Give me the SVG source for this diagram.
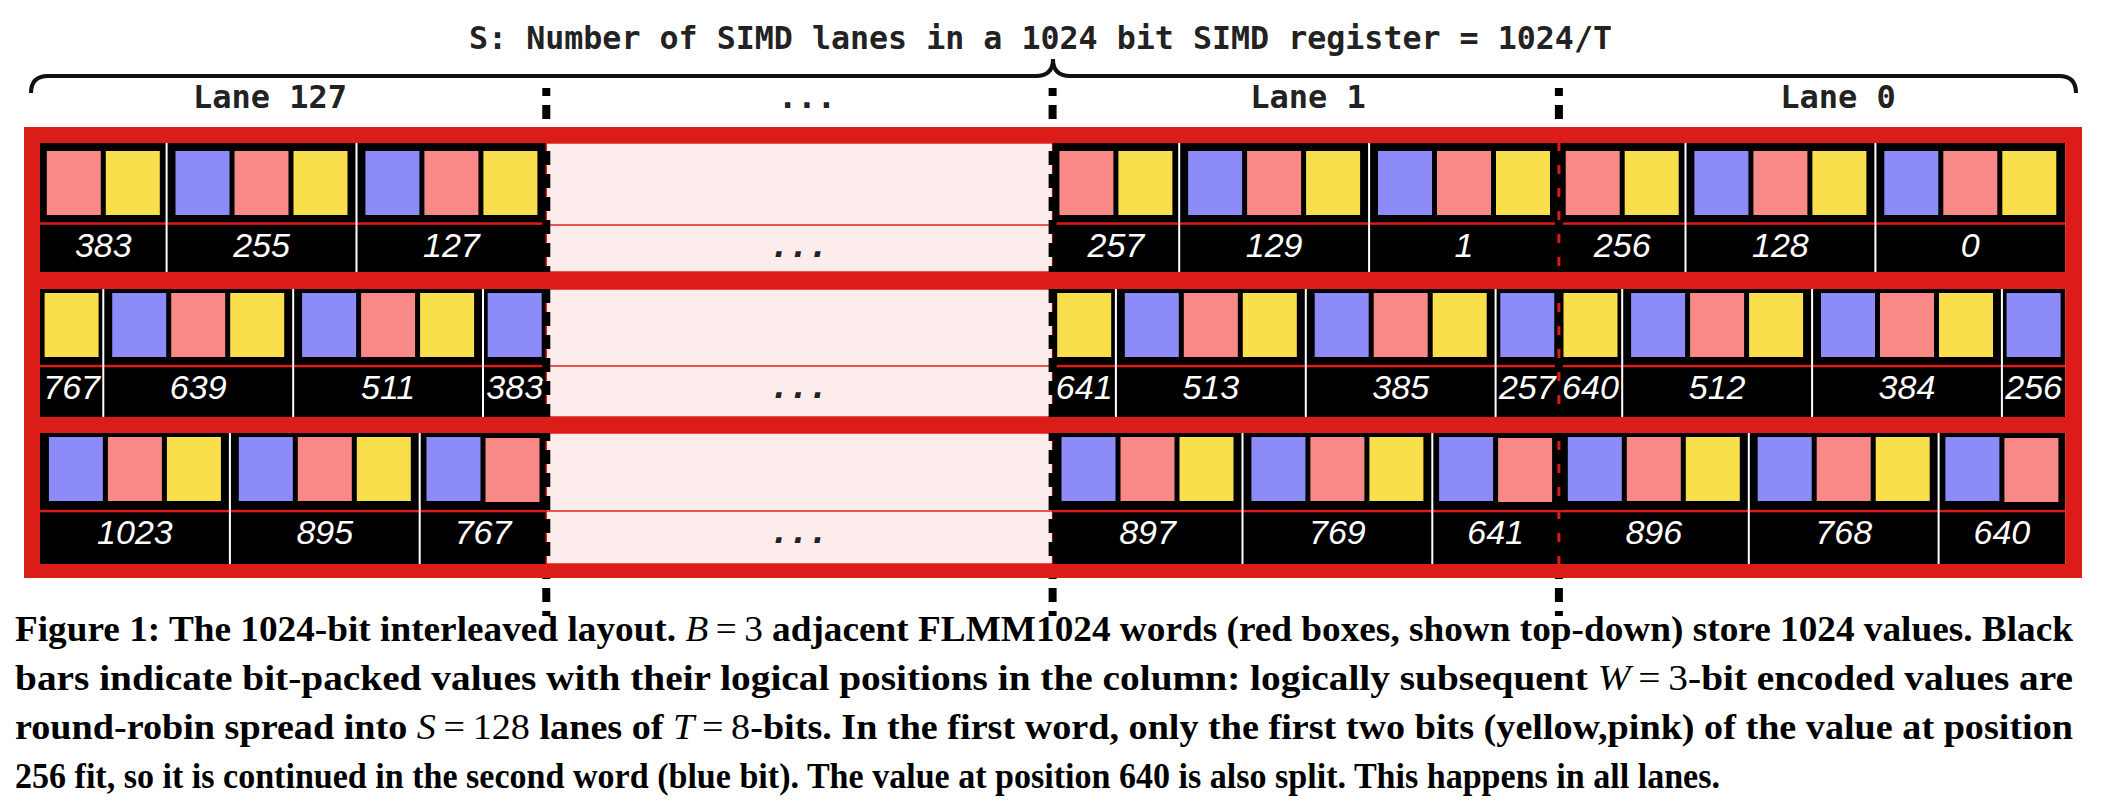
<svg xmlns="http://www.w3.org/2000/svg" xmlns:xlink="http://www.w3.org/1999/xlink" width="2106" height="804" viewBox="0 0 2106 804">
  <style>
    .frame { fill: #dc1c18; fill-rule: evenodd; }
    .cell { fill: #000; }
    .gap { fill: #fdecec; stroke: #e0221d; stroke-width: 1.5; }
    .gap-line { stroke: #e0221d; stroke-width: 1.5; fill: none; }
    .bp { fill: #f88987; }
    .by { fill: #f9df4b; }
    .bb { fill: #8c8bf8; }
    .sep { stroke: #fff; stroke-width: 2; fill: none; }
    .rl { fill: #dc1c18; }
    .lane-edge { stroke: #dc1c18; stroke-width: 3; fill: none; }
    .lane-sep { stroke: #000; stroke-width: 8; stroke-dasharray: 14 9; stroke-dashoffset: 6; fill: none; }
    .brace { stroke: #111; stroke-width: 4; fill: none; stroke-linecap: butt; }
    .num { font-family: "Liberation Sans", Arial, sans-serif; font-style: italic; font-size: 34px; fill: #fff; text-anchor: middle; }
    .mono { font-family: "DejaVu Sans Mono", "Liberation Mono", monospace; font-weight: bold; font-size: 32px; fill: #222; }
    .mid { text-anchor: middle; }
    .ell { font-style: italic; }
    .cap { font-family: "Liberation Serif", "Times New Roman", serif; font-weight: bold; font-size: 35px; fill: #000; }
    .mi { font-style: italic; font-weight: normal; }
    .mn { font-weight: normal; }
  </style>

  <defs>
    <!-- one 8-bit lane of word 1: values split 2 | 3 | 3 bits -->
    <g id="word1">
      <rect class="cell" x="0" y="143" width="506.3" height="129"/>
      <rect class="bp" x="6.8" y="151" width="54" height="64"/>
      <rect class="by" x="65.8" y="151" width="54" height="64"/>
      <rect class="bb" x="135.5" y="151" width="54" height="64"/>
      <rect class="bp" x="194.5" y="151" width="54" height="64"/>
      <rect class="by" x="253.5" y="151" width="54" height="64"/>
      <rect class="bb" x="325.4" y="151" width="54" height="64"/>
      <rect class="bp" x="384.4" y="151" width="54" height="64"/>
      <rect class="by" x="443.4" y="151" width="54" height="64"/>
      <rect class="rl" x="0" y="222.3" width="506.3" height="2.5"/>
      <path class="sep" d="M126.6 143V272M316.5 143V272"/>
    </g>
    <!-- word 2: values split 1 | 3 | 3 | 1 bits -->
    <g id="word2">
      <rect class="cell" x="0" y="289" width="506.3" height="128"/>
      <rect class="by" x="4.6" y="293" width="54" height="64"/>
      <rect class="bb" x="72.2" y="293" width="54" height="64"/>
      <rect class="bp" x="131.2" y="293" width="54" height="64"/>
      <rect class="by" x="190.2" y="293" width="54" height="64"/>
      <rect class="bb" x="262.1" y="293" width="54" height="64"/>
      <rect class="bp" x="321.1" y="293" width="54" height="64"/>
      <rect class="by" x="380.1" y="293" width="54" height="64"/>
      <rect class="bb" x="447.7" y="293" width="54" height="64"/>
      <rect class="rl" x="0" y="364.8" width="506.3" height="2.5"/>
      <path class="sep" d="M63.3 289V417M253.2 289V417M443 289V417"/>
    </g>
    <!-- word 3: values split 3 | 3 | 2 bits -->
    <g id="word3">
      <rect class="cell" x="0" y="433" width="506.3" height="131"/>
      <rect class="bb" x="8.9" y="437" width="54" height="64"/>
      <rect class="bp" x="67.9" y="437" width="54" height="64"/>
      <rect class="by" x="126.9" y="437" width="54" height="64"/>
      <rect class="bb" x="198.8" y="437" width="54" height="64"/>
      <rect class="bp" x="257.8" y="437" width="54" height="64"/>
      <rect class="by" x="316.8" y="437" width="54" height="64"/>
      <rect class="bb" x="386.5" y="437" width="54" height="64"/>
      <rect class="bp" x="445.5" y="438" width="54" height="64"/>
      <rect class="rl" x="0" y="509.8" width="506.3" height="2.5"/>
      <path class="sep" d="M189.9 433V564M379.7 433V564"/>
    </g>
  </defs>

  <!-- heading and lane labels -->
  <text id="title" class="mono" x="469" y="49" textLength="1143" lengthAdjust="spacingAndGlyphs">S: Number of SIMD lanes in a 1024 bit SIMD register = 1024/T</text>
  <path id="brace" class="brace" d="M31 93Q31 76 48 76L1036 76Q1053 76 1053 59Q1053 76 1070 76L2059 76Q2076 76 2076 93"/>
  <g id="lane-labels">
    <text class="mono mid" x="270" y="108">Lane 127</text>
    <text class="mono mid" x="807" y="108">...</text>
    <text class="mono mid" x="1308" y="108">Lane 1</text>
    <text class="mono mid" x="1838" y="108">Lane 0</text>
  </g>

  <!-- lane 127 -->
  <g id="lane127" transform="translate(40 0)">
    <g id="lane127-word1">
      <use xlink:href="#word1" href="#word1"/>
      <text class="num" x="63.3" y="257">383</text>
      <text class="num" x="221.5" y="257">255</text>
      <text class="num" x="411.4" y="257">127</text>
    </g>
    <g id="lane127-word2">
      <use xlink:href="#word2" href="#word2"/>
      <text class="num" x="31.6" y="399">767</text>
      <text class="num" x="158.2" y="399">639</text>
      <text class="num" x="348.1" y="399">511</text>
      <text class="num" x="474.7" y="399">383</text>
    </g>
    <g id="lane127-word3">
      <use xlink:href="#word3" href="#word3"/>
      <text class="num" x="94.9" y="544">1023</text>
      <text class="num" x="284.8" y="544">895</text>
      <text class="num" x="443" y="544">767</text>
    </g>
  </g>

  <!-- elided lanes 126..2 -->
  <g id="lanes-elided">
    <rect class="gap" x="546.3" y="143" width="506.3" height="129"/>
    <rect class="gap" x="546.3" y="289" width="506.3" height="128"/>
    <rect class="gap" x="546.3" y="433" width="506.3" height="131"/>
    <path class="gap-line" d="M546.3 225H1052.6M546.3 366H1052.6M546.3 511H1052.6"/>
    <text class="mono mid ell" x="799" y="257">...</text>
    <text class="mono mid ell" x="799" y="398">...</text>
    <text class="mono mid ell" x="799" y="543">...</text>
  </g>

  <!-- lane 1 -->
  <g id="lane1" transform="translate(1052.6 0)">
    <g id="lane1-word1">
      <use xlink:href="#word1" href="#word1"/>
      <text class="num" x="63.3" y="257">257</text>
      <text class="num" x="221.5" y="257">129</text>
      <text class="num" x="411.4" y="257">1</text>
    </g>
    <g id="lane1-word2">
      <use xlink:href="#word2" href="#word2"/>
      <text class="num" x="31.6" y="399">641</text>
      <text class="num" x="158.2" y="399">513</text>
      <text class="num" x="348.1" y="399">385</text>
      <text class="num" x="474.7" y="399">257</text>
    </g>
    <g id="lane1-word3">
      <use xlink:href="#word3" href="#word3"/>
      <text class="num" x="94.9" y="544">897</text>
      <text class="num" x="284.8" y="544">769</text>
      <text class="num" x="443" y="544">641</text>
    </g>
  </g>

  <!-- lane 0 -->
  <g id="lane0" transform="translate(1558.9 0)">
    <g id="lane0-word1">
      <use xlink:href="#word1" href="#word1"/>
      <text class="num" x="63.3" y="257">256</text>
      <text class="num" x="221.5" y="257">128</text>
      <text class="num" x="411.4" y="257">0</text>
    </g>
    <g id="lane0-word2">
      <use xlink:href="#word2" href="#word2"/>
      <text class="num" x="31.6" y="399">640</text>
      <text class="num" x="158.2" y="399">512</text>
      <text class="num" x="348.1" y="399">384</text>
      <text class="num" x="474.7" y="399">256</text>
    </g>
    <g id="lane0-word3">
      <use xlink:href="#word3" href="#word3"/>
      <text class="num" x="94.9" y="544">896</text>
      <text class="num" x="284.8" y="544">768</text>
      <text class="num" x="443" y="544">640</text>
    </g>
  </g>

  <!-- lane boundaries -->
  <g id="connectors">
    <path class="lane-edge" d="M1558.9 143V272M1558.9 289V417M1558.9 433V564"/>
    <path class="lane-sep" d="M546.3 88V616"/>
    <path class="lane-sep" d="M1052.6 88V616"/>
    <path class="lane-sep" d="M1558.9 88V616"/>
  </g>

  <!-- the three FLMM1024 words (red boxes) -->
  <path id="words-frame" class="frame" d="M24 127H2082V578H24Z M40 143V272H2065.2V143Z M40 289V417H2065.2V289Z M40 433V564H2065.2V433Z"/>

  <!-- caption -->
  <g id="caption" class="cap">
    <text x="15" y="641" textLength="2058" lengthAdjust="spacingAndGlyphs">Figure 1: The 1024-bit interleaved layout. <tspan class="mi">B</tspan><tspan class="mn">&#8201;=&#8201;3</tspan> adjacent FLMM1024 words (red boxes, shown top-down) store 1024 values. Black</text>
    <text x="15" y="690" textLength="2058" lengthAdjust="spacingAndGlyphs">bars indicate bit-packed values with their logical positions in the column: logically subsequent <tspan class="mi">W</tspan><tspan class="mn">&#8201;=&#8201;3</tspan>-bit encoded values are</text>
    <text x="15" y="739" textLength="2058" lengthAdjust="spacingAndGlyphs">round-robin spread into <tspan class="mi">S</tspan><tspan class="mn">&#8201;=&#8201;128</tspan> lanes of <tspan class="mi">T</tspan><tspan class="mn">&#8201;=&#8201;8</tspan>-bits. In the first word, only the first two bits (yellow,pink) of the value at position</text>
    <text x="15" y="788" textLength="1705" lengthAdjust="spacingAndGlyphs">256 fit, so it is continued in the second word (blue bit). The value at position 640 is also split. This happens in all lanes.</text>
  </g>
</svg>
